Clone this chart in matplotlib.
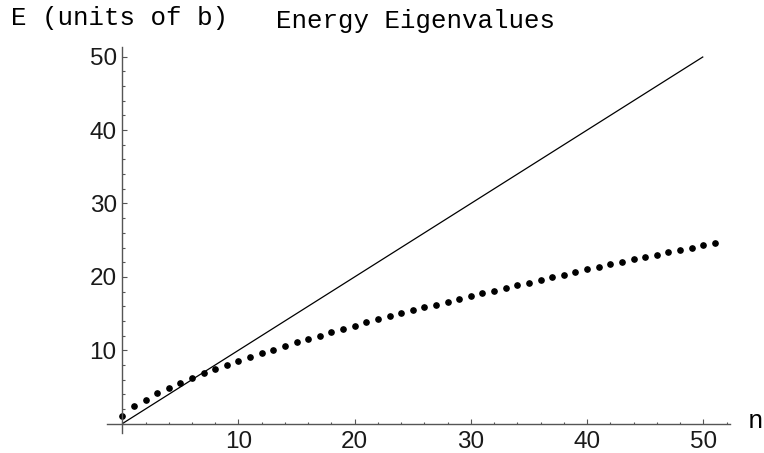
import matplotlib
matplotlib.use("Agg")
import matplotlib.pyplot as plt
from matplotlib.ticker import MultipleLocator

# Data
n_levels = [0, 1, 2, 3, 4, 5, 6, 7, 8, 9, 10, 11, 12, 13, 14, 15, 16, 17, 18, 19,
            20, 21, 22, 23, 24, 25, 26, 27, 28, 29, 30, 31, 32, 33, 34, 35, 36, 37,
            38, 39, 40, 41, 42, 43, 44, 45, 46, 47, 48, 49, 50, 51]
energies = [1.05, 2.37, 3.29, 4.16, 4.84, 5.57, 6.16, 6.85, 7.40, 7.99, 8.54,
            9.09, 9.59, 10.09, 10.57, 11.07, 11.56, 12.01, 12.47, 12.93, 13.34,
            13.79, 14.21, 14.62, 15.03, 15.44, 15.85, 16.21, 16.62, 16.99, 17.40,
            17.77, 18.13, 18.50, 18.86, 19.23, 19.59, 19.96, 20.32, 20.69, 21.01,
            21.33, 21.69, 22.01, 22.38, 22.70, 23.02, 23.34, 23.66, 23.97, 24.30,
            24.61]
line_n = [0, 50]
line_e = [0, 50]
x_ticks = [10, 20, 30, 40, 50]
y_ticks = [10, 20, 30, 40, 50]

W, H = 764, 453
fig = plt.figure(figsize=(W / 100, H / 100), dpi=100)
left_px, right_px, top_px, bottom_px = 106.7, 730.0, 46.7, 433.0
ax = fig.add_axes([left_px / W, 1 - bottom_px / H,
                   (right_px - left_px) / W, (bottom_px - top_px) / H])
ax.set_xlim(-1.34, 52.3)
ax.set_ylim(-1.27, 51.36)

axis_color = "#555555"
for side in ["top", "right"]:
    ax.spines[side].set_visible(False)
for side in ["left", "bottom"]:
    ax.spines[side].set_position(("data", 0))
    ax.spines[side].set_color(axis_color)
    ax.spines[side].set_linewidth(1.0)

ax.plot(line_n, line_e, color="black", lw=0.9, solid_capstyle="butt")
ax.plot(n_levels, energies, linestyle="none", marker="o", ms=3.8,
        color="black", mec="black")

ax.set_xticks(x_ticks)
ax.set_yticks(y_ticks)
ax.xaxis.set_minor_locator(MultipleLocator(2))
ax.yaxis.set_minor_locator(MultipleLocator(2))
ax.tick_params(which="both", direction="in", color=axis_color, width=0.8)
ax.tick_params(which="major", length=3.6)
ax.tick_params(which="minor", length=1.8)
ax.tick_params(axis="x", pad=5)
ax.tick_params(axis="y", pad=4)
for lab in ax.get_xticklabels() + ax.get_yticklabels():
    lab.set_fontfamily("Liberation Sans")
    lab.set_fontsize(17.5)
    lab.set_color("#1a1a1a")

mono = "Liberation Mono"
fig.text(11.0 / W, 1 - 25 / H, "E (units of b)", family=mono, fontsize=18.6,
         ha="left", va="baseline", color="black")
fig.text(276.0 / W, 1 - 28 / H, "Energy Eigenvalues", family=mono, fontsize=18.6,
         ha="left", va="baseline", color="black")
fig.text(748.0 / W, 1 - 428 / H, "n", family=mono, fontsize=18.6,
         ha="left", va="baseline", color="black")

fig.savefig("out.png", dpi=100)
